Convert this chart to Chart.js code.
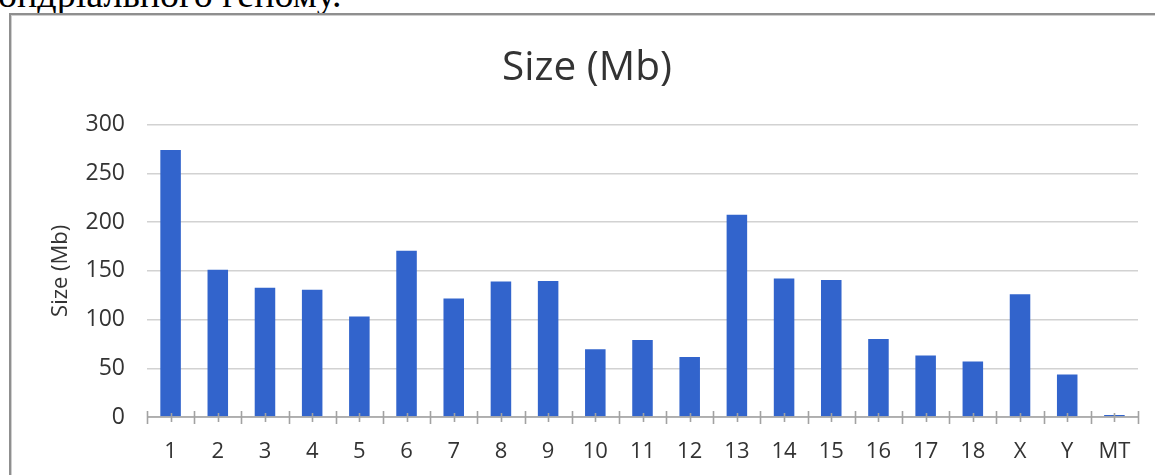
<!DOCTYPE html>
<html>
<head>
<meta charset="utf-8">
<script src="https://cdn.jsdelivr.net/npm/chart.js@4.4.1/dist/chart.umd.min.js"></script>
<style>
  html, body { margin: 0; padding: 0; background: #fff; overflow: hidden; width: 1155px; height: 475px; }
  #caption {
    position: absolute; left: -2px; top: -25px; margin: 0;
    font-family: "Liberation Serif", "Times New Roman", serif;
    font-size: 38px; line-height: 38px; color: #000; white-space: nowrap;
  }
  #frame {
    position: absolute; left: 9px; top: 13px; width: 1200px; height: 520px;
    border-left: 2px solid #8f8f8f; border-top: 2px solid #8f8f8f;
    box-shadow: inset 1px 1px 0 #cfcfcf;
  }
  #chart { position: absolute; left: 11px; top: 16px; }
</style>
</head>
<body>
<p id="caption">ондріального геному.</p>
<div id="frame"></div>
<canvas id="chart" width="1152" height="470"></canvas>
<script>
// Chromosome names and assembled sizes in megabases
const chromosomes = ['1', '2', '3', '4', '5', '6', '7', '8', '9', '10', '11', '12', '13', '14', '15', '16', '17', '18', 'X', 'Y', 'MT'];
const sizesMb = [274, 151, 132.5, 130.5, 103, 170.5, 121.5, 139, 139.5, 69.5, 79, 61.5, 207.5, 142, 140.5, 80, 63, 57, 126, 43.5, 2];
const yTicks = [0, 50, 100, 150, 200, 250, 300];

const FONT = '"Open Sans", "Noto Sans", sans-serif';
const TEXT = '#333333';

// Category axis line with boundary ticks and centre ticks
const axisTicks = {
  id: 'axisTicks',
  afterDatasetsDraw(chart) {
    const { ctx, chartArea, scales: { x } } = chart;
    const y0 = chartArea.bottom;
    ctx.save();
    ctx.strokeStyle = '#a2a2a2';
    ctx.lineWidth = 1.6;
    ctx.beginPath();
    ctx.moveTo(chartArea.left, y0);
    ctx.lineTo(chartArea.right, y0);
    for (let i = 0; i <= chromosomes.length; i++) {
      const bx = Math.round(x.getPixelForValue(i - 0.5)) + 0.5;
      ctx.moveTo(bx, y0 - 6);
      ctx.lineTo(bx, y0 + 7);
    }
    for (let i = 0; i < chromosomes.length; i++) {
      const cx = Math.round(x.getPixelForValue(i)) + 0.5;
      ctx.moveTo(cx, y0 - 4);
      ctx.lineTo(cx, y0 + 5);
    }
    ctx.stroke();
    ctx.restore();
  }
};

new Chart(document.getElementById('chart'), {
  type: 'bar',
  data: {
    labels: chromosomes,
    datasets: [{
      label: 'Size (Mb)',
      data: sizesMb,
      backgroundColor: '#3264cc',
      borderWidth: 0,
      categoryPercentage: 1,
      barPercentage: 0.435
    }]
  },
  options: {
    responsive: false,
    devicePixelRatio: 1,
    animation: false,
    layout: { padding: { left: 25, right: 25, top: 0, bottom: 0 } },
    plugins: {
      legend: { display: false },
      tooltip: { enabled: false },
      title: {
        display: true,
        text: 'Size (Mb)',
        color: TEXT,
        font: { family: FONT, size: 40.5, weight: 'normal' },
        padding: { top: 28, bottom: 32 }
      }
    },
    scales: {
      x: {
        grid: { display: false, drawTicks: false },
        border: { display: false },
        ticks: {
          color: TEXT,
          font: { family: FONT, size: 22 },
          padding: 22,
          maxRotation: 0,
          autoSkip: false
        },
        afterFit(scale) { scale.height = 69; }
      },
      y: {
        min: 0,
        max: 300,
        grid: { color: '#d2d2d2', lineWidth: 1.5, drawTicks: false },
        border: { display: false },
        afterBuildTicks(scale) { scale.ticks = yTicks.map(v => ({ value: v })); },
        ticks: {
          color: TEXT,
          font: { family: FONT, size: 23 },
          padding: 22
        },
        title: {
          display: true,
          text: 'Size (Mb)',
          color: TEXT,
          font: { family: FONT, size: 22 },
          padding: { top: 12, bottom: 0 }
        },
        afterFit(scale) { scale.width = 111; }
      }
    }
  },
  plugins: [axisTicks]
});
</script>
</body>
</html>
